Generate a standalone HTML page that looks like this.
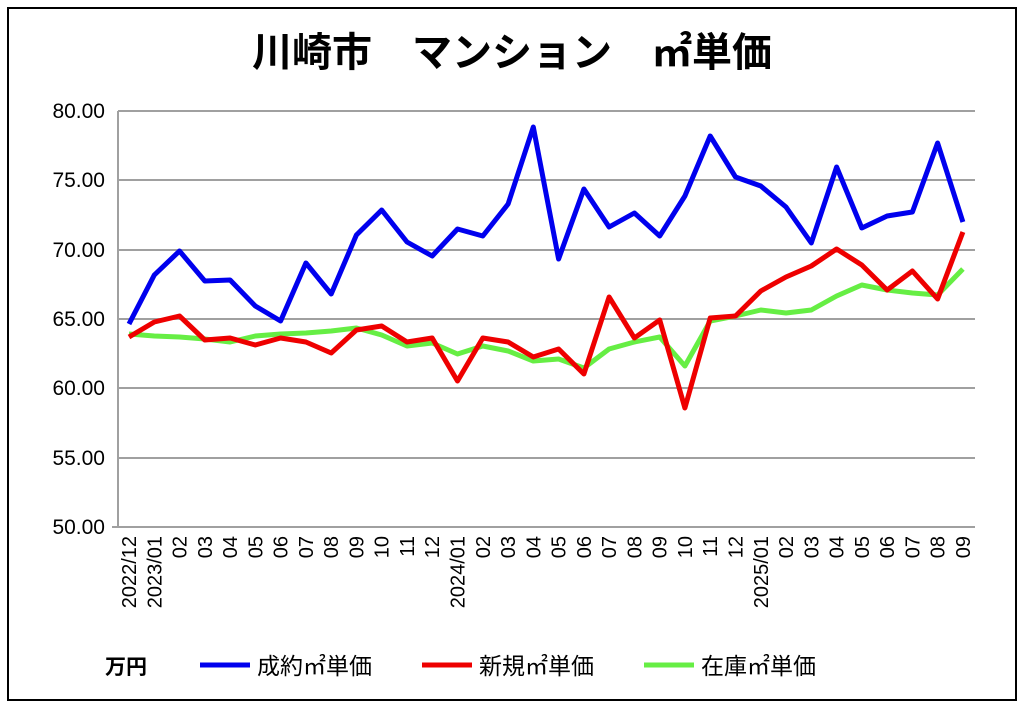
<!DOCTYPE html><html><head><meta charset="utf-8"><style>body{margin:0;background:#fff}svg text{font-family:"Liberation Sans","Noto Sans CJK JP",sans-serif}</style></head><body>
<svg width="1024" height="708" xmlns="http://www.w3.org/2000/svg">
<rect x="0" y="0" width="1024" height="708" fill="#fff"/>
<rect x="8" y="8" width="1008" height="692" fill="none" stroke="#000" stroke-width="2"/>
<text x="512" y="66" text-anchor="middle" font-size="40" font-weight="bold" font-family="Noto Sans CJK JP">川崎市　マンション　㎡単価</text>
<g stroke="#a0a0a0" stroke-width="2">
<line x1="118" y1="111" x2="975" y2="111"/><line x1="118" y1="180" x2="975" y2="180"/><line x1="118" y1="250" x2="975" y2="250"/><line x1="118" y1="319" x2="975" y2="319"/><line x1="118" y1="388" x2="975" y2="388"/><line x1="118" y1="458" x2="975" y2="458"/><line x1="112" y1="527" x2="975" y2="527"/>
<line x1="118" y1="111" x2="118" y2="527"/>
</g>
<g font-size="21" text-anchor="end">
<text x="105" y="118">80.00</text><text x="105" y="187">75.00</text><text x="105" y="257">70.00</text><text x="105" y="326">65.00</text><text x="105" y="395">60.00</text><text x="105" y="465">55.00</text><text x="105" y="534">50.00</text>
</g>
<g id="xl" font-size="20" text-anchor="end"></g>
<polyline id="g" fill="none" stroke="#66ee44" stroke-width="5" stroke-linejoin="round"/>
<polyline id="r" fill="none" stroke="#ee0000" stroke-width="5" stroke-linejoin="round"/>
<polyline id="b" fill="none" stroke="#0000ee" stroke-width="5" stroke-linejoin="round"/>
<text x="105" y="674" font-size="21" font-weight="bold" font-family="Noto Sans CJK JP">万円</text>
<line x1="200" y1="665" x2="250" y2="665" stroke="#0000ee" stroke-width="5"/><text x="257" y="674" font-size="23" font-family="Noto Sans CJK JP">成約㎡単価</text>
<line x1="422" y1="665" x2="472" y2="665" stroke="#ee0000" stroke-width="5"/><text x="479" y="674" font-size="23" font-family="Noto Sans CJK JP">新規㎡単価</text>
<line x1="644" y1="665" x2="694" y2="665" stroke="#66ee44" stroke-width="5"/><text x="701" y="674" font-size="23" font-family="Noto Sans CJK JP">在庫㎡単価</text>
</svg>
<script>
var B=[324,275,251,281,280,306,321,263,294,235,210,242,256,229,236,204,127,259,189,227,213,236,196,136,177,186,207,243,167,228,216,212,143,222];
var R=[337,322,316,340,338,345,338,342,353,330,326,342,338,381,338,342,357,349,374,297,338,320,408,318,316,291,277,266,249,265,290,271,299,232];
var G=[334,336,337,339,342,336,334,333,331,328,335,346,343,354,346,351,361,359,368,349,342,337,366,321,316,310,313,310,296,285,290,293,295,269];
function X(i){return 129+i*25.27}
function pts(a){return a.map(function(v,i){return X(i).toFixed(1)+","+v}).join(" ")}
document.getElementById("b").setAttribute("points",pts(B));
document.getElementById("r").setAttribute("points",pts(R));
document.getElementById("g").setAttribute("points",pts(G));
var L=["2022/12","2023/01","02","03","04","05","06","07","08","09","10","11","12","2024/01","02","03","04","05","06","07","08","09","10","11","12","2025/01","02","03","04","05","06","07","08","09"];
var g=document.getElementById("xl"),h="";
L.forEach(function(t,i){var x=X(i)+7;h+='<text transform="translate('+x.toFixed(1)+',536) rotate(-90)">'+t+'</text>';});
g.innerHTML=h;
</script>
</body></html>
